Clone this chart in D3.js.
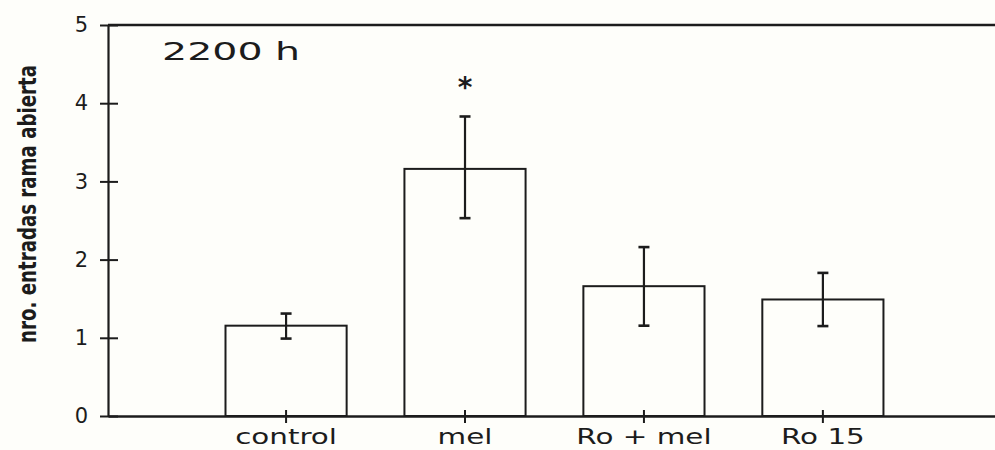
<!DOCTYPE html>
<html>
<head>
<meta charset="utf-8">
<script src="https://cdn.jsdelivr.net/npm/d3@7"></script>
<style>
  html, body { margin: 0; padding: 0; background: #fefefa; }
  svg { display: block; }
</style>
</head>
<body>
<div id="container"></div>
<script>
// data
const categories = ["control", "mel", "Ro + mel", "Ro 15"];
const means = [1.155, 3.16, 1.66, 1.49];
const errHigh = [1.31, 3.83, 2.16, 1.83];
const errLow = [0.99, 2.53, 1.155, 1.15];
const significant = [false, true, false, false];
const yTicks = [0, 1, 2, 3, 4, 5];
const panelLabel = "2200 h";
const yLabel = "nro. entradas rama abierta";

// set dimensions
const w = 995;
const h = 450;
const plotLeft = 108, plotRight = 995, plotTop = 25, plotBottom = 416;
const ink = "#1c1c1c";

const rows = categories.map((c, i) => ({
    name: c, mean: means[i], hi: errHigh[i], lo: errLow[i], star: significant[i]
}));

// set the ranges
const xScale = d3.scaleBand()
                 .domain(categories)
                 .range([plotLeft, plotRight])
                 .paddingInner(0.323)
                 .paddingOuter(0.64)
                 .align(0.513);
const yScale = d3.scaleLinear()
                 .domain([0, 5])
                 .range([plotBottom, plotTop]);

const svg = d3.select("#container")
              .append("svg")
              .attr("width", w)
              .attr("height", h)
              .style("background", "#fefefa");

// bars
svg.selectAll("rect.bar")
   .data(rows)
   .enter()
   .append("rect")
   .attr("class", "bar")
   .attr("x", d => xScale(d.name))
   .attr("y", d => yScale(d.mean))
   .attr("width", xScale.bandwidth())
   .attr("height", d => yScale(0) - yScale(d.mean))
   .attr("fill", "#fefefa")
   .attr("stroke", ink)
   .attr("stroke-width", 2);

// error bars
const cx = d => xScale(d.name) + xScale.bandwidth() / 2;
const err = svg.append("g")
               .attr("stroke", ink)
               .attr("stroke-width", 2.2);
rows.forEach(function(d){
    err.append("line")
       .attr("x1", cx(d)).attr("x2", cx(d))
       .attr("y1", yScale(d.hi)).attr("y2", yScale(d.lo));
    [d.hi, d.lo].forEach(function(v){
        err.append("line")
           .attr("x1", cx(d) - 5.5).attr("x2", cx(d) + 5.5)
           .attr("y1", yScale(v)).attr("y2", yScale(v))
           .attr("stroke-width", 2.6);
    });
});

// significance star
svg.selectAll("text.star")
   .data(rows.filter(d => d.star))
   .enter()
   .append("text")
   .attr("class", "star")
   .attr("x", d => cx(d))
   .attr("y", d => yScale(d.hi) - 19)
   .attr("text-anchor", "middle")
   .attr("font-family", "DejaVu Sans")
   .attr("font-weight", "bold")
   .attr("font-size", "28px")
   .attr("fill", ink)
   .text("*");

// top frame line
svg.append("line")
   .attr("x1", plotLeft).attr("x2", plotRight)
   .attr("y1", yScale(5)).attr("y2", yScale(5))
   .attr("stroke", ink)
   .attr("stroke-width", 2.4);

// x axis
const xAxis = d3.axisBottom(xScale)
                .tickSize(7)
                .tickSizeOuter(0)
                .tickFormat("");
const gx = svg.append("g")
              .attr("transform", "translate(0, " + plotBottom + ")")
              .call(xAxis);
gx.select(".domain").attr("stroke", ink).attr("stroke-width", 2.4);
gx.selectAll(".tick line").attr("y1", -6).attr("stroke", ink).attr("stroke-width", 2);

// x labels
svg.selectAll("text.cat")
   .data(categories)
   .enter()
   .append("text")
   .attr("class", "cat")
   .attr("transform", d => "translate(" + (xScale(d) + xScale.bandwidth() / 2) + ", 444) scale(1.4, 1)")
   .attr("text-anchor", "middle")
   .attr("font-family", "DejaVu Sans")
   .attr("font-size", "21px")
   .attr("fill", ink)
   .text(d => d);

// y axis
const yAxis = d3.axisLeft(yScale)
                .tickValues(yTicks)
                .tickSize(8)
                .tickSizeOuter(0)
                .tickPadding(12)
                .tickFormat(d3.format("d"));
const gy = svg.append("g")
              .attr("transform", "translate(" + plotLeft + ", 0)")
              .call(yAxis);
gy.select(".domain").attr("stroke", ink).attr("stroke-width", 2.2);
gy.selectAll(".tick line").attr("x1", 10).attr("stroke", ink).attr("stroke-width", 2);
gy.selectAll(".tick text")
  .attr("font-family", "DejaVu Sans")
  .attr("font-size", "21px")
  .attr("fill", ink);

// panel label
svg.append("text")
   .attr("transform", "translate(162, 60) scale(1.58, 1)")
   .attr("font-family", "DejaVu Sans")
   .attr("font-size", "25px")
   .attr("fill", ink)
   .text(panelLabel);

// y-axis label
svg.append("text")
   .attr("transform", "translate(36, 204) rotate(-90)")
   .attr("text-anchor", "middle")
   .attr("font-family", "DejaVu Sans Condensed, DejaVu Sans")
   .attr("font-weight", "bold")
   .attr("font-size", "25px")
   .attr("textLength", 278)
   .attr("lengthAdjust", "spacingAndGlyphs")
   .attr("fill", ink)
   .text(yLabel);
</script>
</body>
</html>
